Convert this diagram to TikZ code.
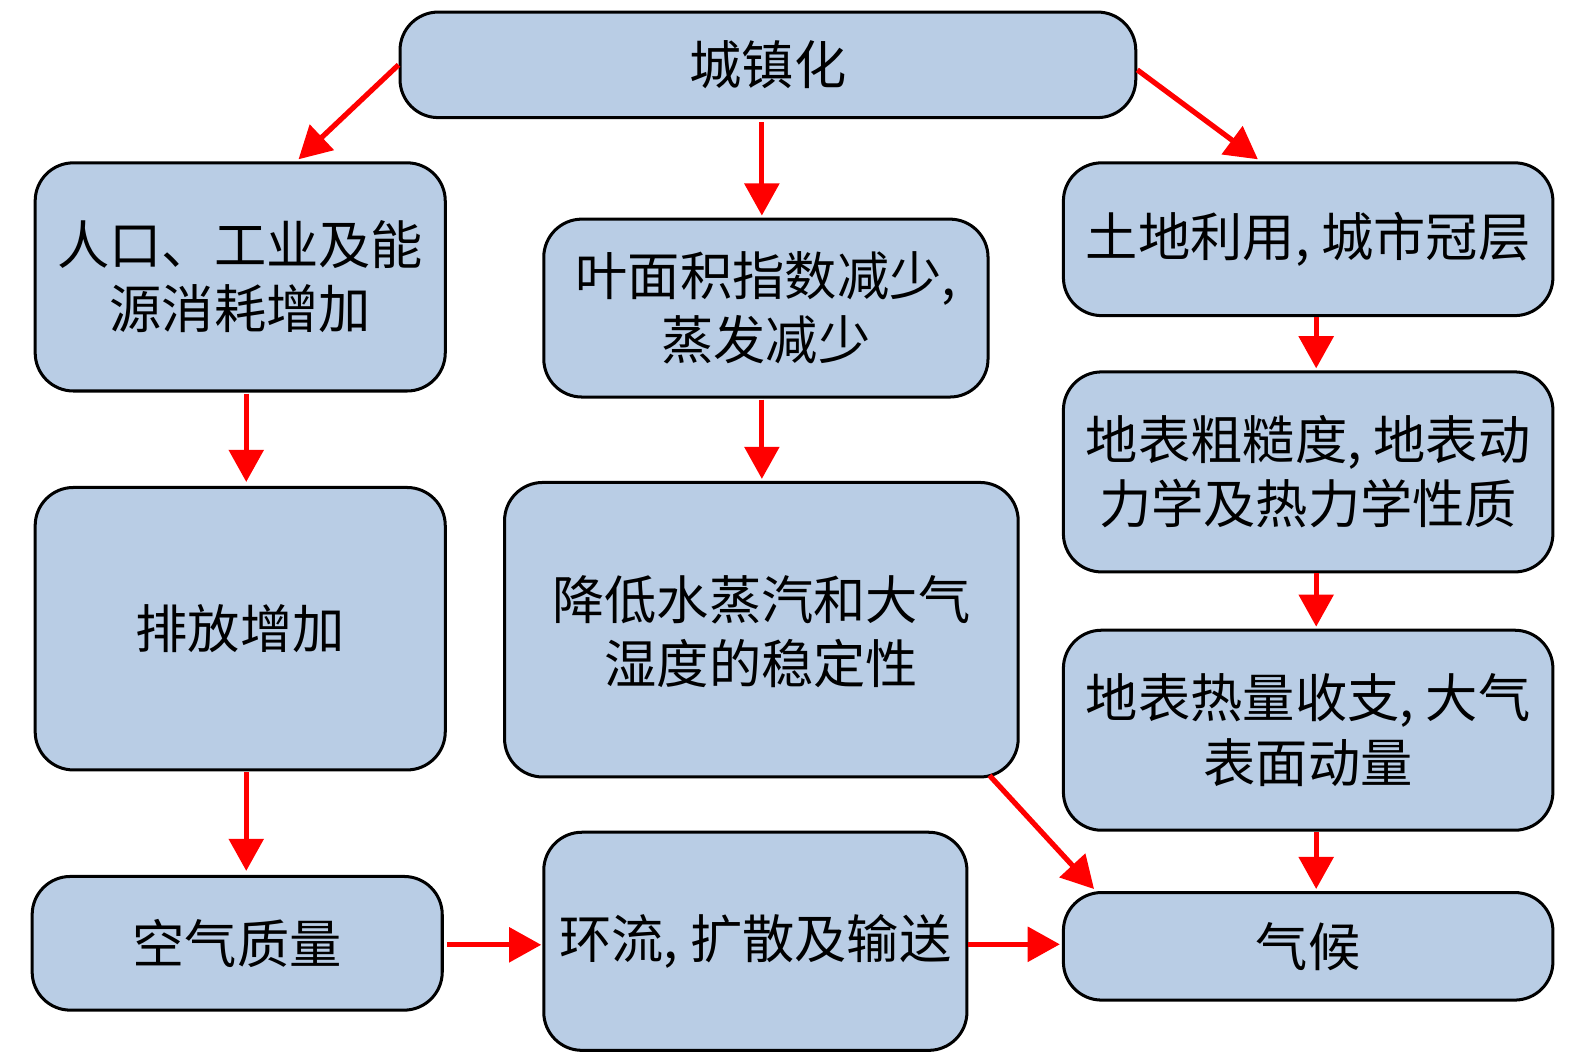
\documentclass[tikz,border=0pt]{standalone}
\usepackage{fontspec}
\newfontfamily\cjk{Noto Sans CJK SC}
\usetikzlibrary{arrows.meta,calc}
\definecolor{boxblue}{RGB}{185,205,229}
\definecolor{arrred}{RGB}{255,0,0}
\tikzset{
  box/.style={draw=black, line width=1.5bp, fill=boxblue, rounded corners=19bp,
    inner sep=0pt, align=center, font=\cjk\fontsize{26bp}{32bp}\selectfont},
  conn/.style={draw=arrred, line width=2.6bp, -{Triangle[length=16bp,width=17bp]}}
}
\begin{document}
\begin{tikzpicture}[x=0.5bp,y=-0.5bp]
\useasboundingbox (0,0) rectangle (1567,1051);
\node[box, minimum width=366bp, minimum height=52.5bp] (urb) at (764,64.5) {城镇化};
\node[box, minimum width=204bp, minimum height=113.5bp] (pop) at (239,275.5) {人口、工业及能\\源消耗增加};
\node[box, minimum width=204bp, minimum height=140.5bp] (emis) at (239,625.5) {排放增加};
\node[box, minimum width=204bp, minimum height=66.5bp] (air) at (236,938.5) {空气质量};
\node[box, minimum width=221bp, minimum height=88.5bp] (lai) at (762,306.5) {叶面积指数减少,\\蒸发减少};
\node[box, minimum width=255.5bp, minimum height=146.5bp, text depth=-10bp] (hum) at (757.5,626.5) {降低水蒸汽和大气\\湿度的稳定性};
\node[box, minimum width=210.5bp, minimum height=108.5bp] (circ) at (751.5,936.5) {环流, 扩散及输送};
\node[box, minimum width=243.5bp, minimum height=76bp] (land) at (1301.5,238) {土地利用, 城市冠层};
\node[box, minimum width=243.5bp, minimum height=99.5bp] (rough) at (1301.5,469.5) {地表粗糙度, 地表动\\力学及热力学性质};
\node[box, minimum width=243.5bp, minimum height=99.5bp] (heat) at (1301.5,726.5) {地表热量收支, 大气\\表面动量};
\node[box, minimum width=243.5bp, minimum height=53.5bp] (clim) at (1301.5,941.5) {气候};

\draw[conn] (urb.west) -- ($(pop.north)+(58,-2)$);
\draw[conn] ($(urb.south)+(-6,3)$) -- ($(lai.north)+(-4,-2)$);
\draw[conn] ($(urb.east)+(0,5)$) -- ($(land.north)+(-50,-2)$);
\draw[conn] ($(pop.south)+(6,1)$) -- ($(emis.north)+(6,-4)$);
\draw[conn] ($(lai.south)+(-4,1)$) -- ($(hum.north)+(0.5,-2)$);
\draw[conn] ($(emis.south)+(6,1)$) -- ($(air.north)+(9,-4)$);
\draw[conn] ($(land.south)+(8,0)$) -- ($(rough.north)+(8,-2)$);
\draw[conn] ($(rough.south)+(8,0)$) -- ($(heat.north)+(8,-2)$);
\draw[conn] ($(heat.south)+(8,0)$) -- ($(clim.north)+(8,-2)$);
\draw[conn] ($(hum.south east)+(-30,-3)$) -- ($(clim.north west)+(32,-2)$);
\draw[conn] ($(air.east)+(3,1.5)$) -- ($(circ.west)+(-1,3.5)$);
\draw[conn] ($(circ.east)+(0,3)$) -- ($(clim.west)+(-2,-2)$);
\end{tikzpicture}
\end{document}
